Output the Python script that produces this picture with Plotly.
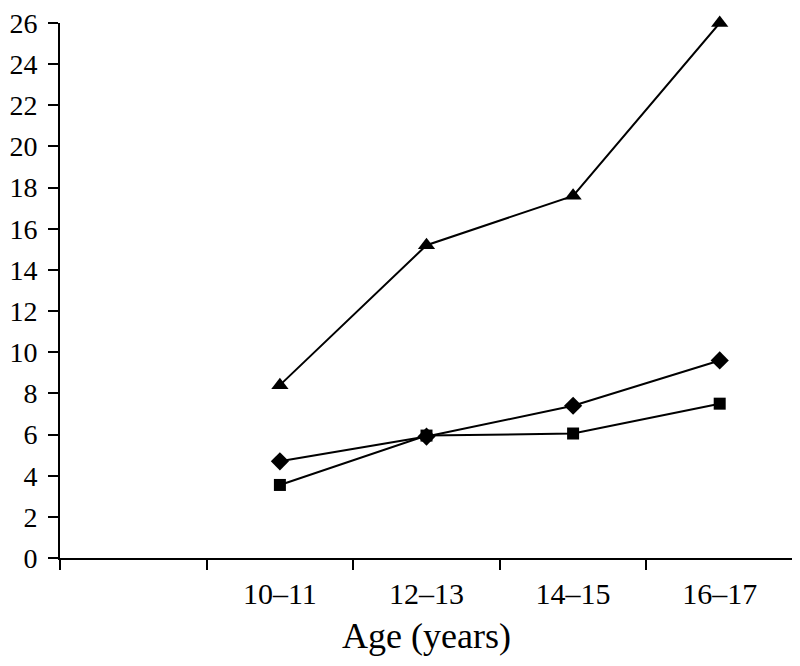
import plotly.graph_objects as go

categories = [" ", "10–11", "12–13", "14–15", "16–17"]
ages = ["10–11", "12–13", "14–15", "16–17"]
triangle_series = [8.4, 15.2, 17.6, 26.0]
diamond_series = [4.7, 5.9, 7.4, 9.6]
square_series = [3.55, 5.95, 6.05, 7.5]
y_ticks = list(range(0, 27, 2))

fig = go.Figure()
for vals, sym, size in [
    (triangle_series, "triangle-up", 15),
    (diamond_series, "diamond", 14),
    (square_series, "square", 12),
]:
    fig.add_trace(go.Scatter(
        x=ages, y=vals, mode="lines+markers",
        line=dict(color="black", width=2),
        marker=dict(symbol=sym, size=size, color="black"),
        cliponaxis=False, showlegend=False,
    ))

font = dict(family="Liberation Serif, Times New Roman, serif", size=30, color="black")
fig.update_layout(
    width=792, height=658,
    margin=dict(l=52, r=7, t=15, b=108, autoexpand=False),
    plot_bgcolor="white", paper_bgcolor="white",
    font=font,
    xaxis=dict(
        type="category", categoryorder="array", categoryarray=categories,
        range=[-0.5, 4.5], tickson="boundaries", automargin=False,
        showline=True, linecolor="black", linewidth=2,
        ticks="outside", ticklen=10, tickwidth=2, tickcolor="black",
        showgrid=False, zeroline=False, ticklabelstandoff=8,
        ticklabeloverflow="allow",
        title=dict(text="Age (years)", standoff=14),
    ),
    yaxis=dict(
        range=[0, 26], tickvals=y_ticks, automargin=False,
        showline=True, linecolor="black", linewidth=2,
        ticks="outside", ticklen=10, tickwidth=2, tickcolor="black",
        showgrid=False, zeroline=False, ticklabelstandoff=5,
        ticklabeloverflow="allow", tickfont=dict(size=28),
    ),
)
fig.write_html("out.html")
